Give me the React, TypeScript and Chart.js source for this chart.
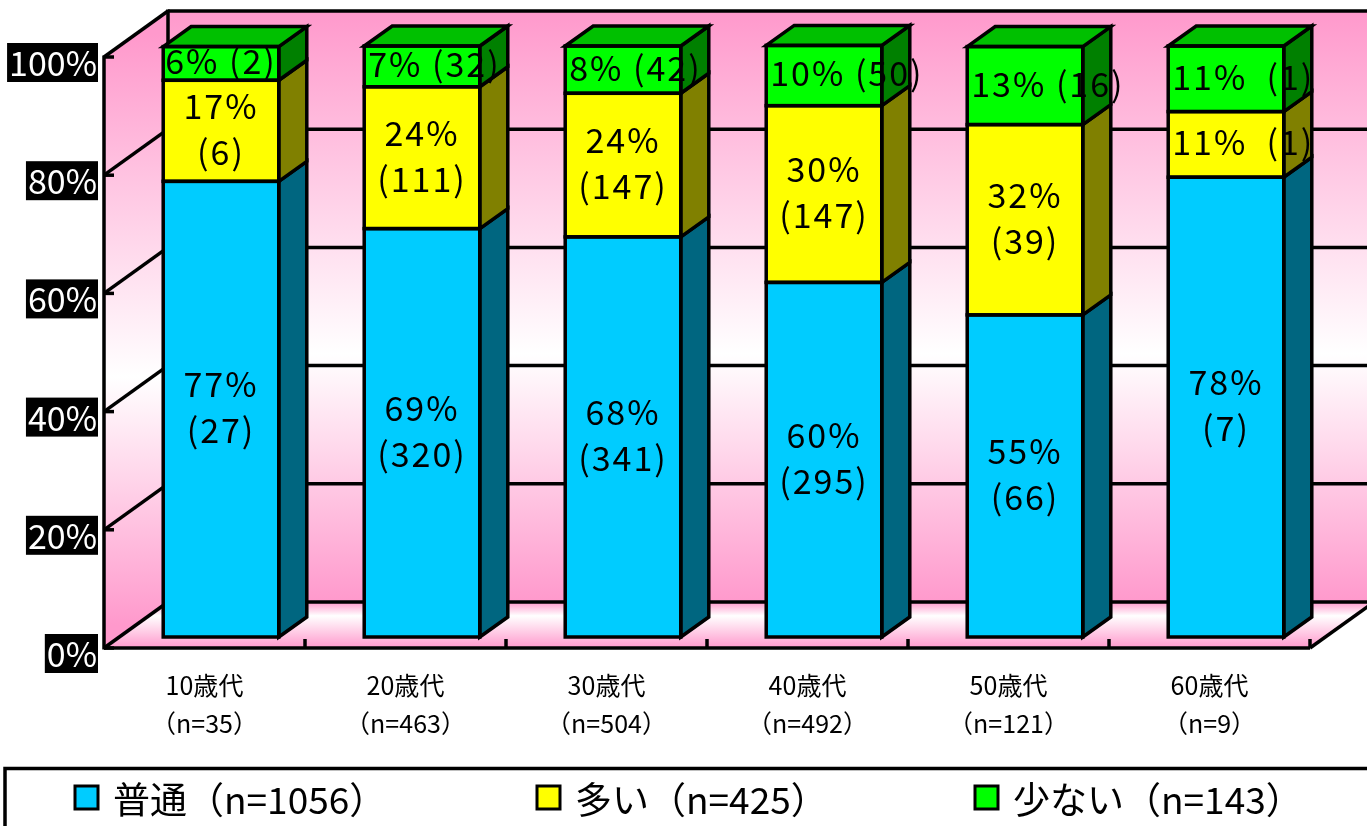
import React, { useEffect, useRef } from 'react';
import { Chart, registerables } from 'chart.js';

Chart.register(...registerables);

// ---- data ----
const categories = ['10歳代', '20歳代', '30歳代', '40歳代', '50歳代', '60歳代'];
const categorySizes = ['（n=35）', '（n=463）', '（n=504）', '（n=492）', '（n=121）', '（n=9）'];
const seriesNames = ['普通（n=1056）', '多い（n=425）', '少ない（n=143）'];
const normalShare = [77.1, 69.1, 67.7, 60.0, 54.5, 77.8];
const manyShare = [17.1, 24.0, 24.3, 29.9, 32.2, 11.1];
const fewShare = [5.7, 6.9, 8.0, 10.2, 13.2, 11.1];
const normalLabels = ['77%\n(27)', '69%\n(320)', '68%\n(341)', '60%\n(295)', '55%\n(66)', '78%\n(7)'];
const manyLabels = ['17%\n(6)', '24%\n(111)', '24%\n(147)', '30%\n(147)', '32%\n(39)', '11%  (1)'];
const fewLabels = ['6% (2)', '7% (32)', '8% (42)', '10% (50)', '13% (16)', '11%  (1)'];
const yTicks = [0, 20, 40, 60, 80, 100];
const yTickLabels = ['0%', '20%', '40%', '60%', '80%', '100%'];

// ---- styles ----
const FRONT_COLORS = ['#00CCFF', '#FFFF00', '#00FF00'];
const SIDE_COLORS = ['#006680', '#808000', '#008000'];
const TOP_COLOR = '#00C000';
const PINK = '#FF99CC';
const FONT = '"Noto Sans CJK JP", "Noto Sans", sans-serif';
const FRONT_OFF = { dx: -16.5, dy: 11 };
const BACK_OFF = { dx: 47.5, dy: -35 };
const BAR_DEPTH = { dx: 28, dy: -20 };
const LEGEND_X = [75, 537, 975];
const LINE_W = 3.5;

const labelSets = [normalLabels, manyLabels, fewLabels];

const pseudo3d = {
  id: 'pseudo3d',
  beforeDatasetsDraw(chart: any) {
    const ctx = chart.ctx as CanvasRenderingContext2D;
    const { left, right } = chart.chartArea;
    const ys = chart.scales.y;
    const xs = chart.scales.x;
    const yv = (v: number) => ys.getPixelForValue(v);
    const fL = left + FRONT_OFF.dx;
    const fR = right + FRONT_OFF.dx;
    const bL = left + BACK_OFF.dx;
    const bR = right + BACK_OFF.dx;
    const yF = (v: number) => yv(v) + FRONT_OFF.dy;
    const yB = (v: number) => yv(v) + BACK_OFF.dy;
    ctx.save();

    // back wall
    let g = ctx.createLinearGradient(0, yB(100), 0, yB(0));
    g.addColorStop(0, PINK);
    g.addColorStop(0.58, '#FFFFFF');
    g.addColorStop(1, PINK);
    ctx.fillStyle = g;
    ctx.fillRect(bL, yB(100), bR - bL, yB(0) - yB(100));

    // left wall
    g = ctx.createLinearGradient(0, (yF(100) + yB(100)) / 2, 0, (yF(0) + yB(0)) / 2);
    g.addColorStop(0, PINK);
    g.addColorStop(0.58, '#FFFFFF');
    g.addColorStop(1, PINK);
    ctx.fillStyle = g;
    ctx.beginPath();
    ctx.moveTo(fL, yF(100));
    ctx.lineTo(bL, yB(100));
    ctx.lineTo(bL, yB(0));
    ctx.lineTo(fL, yF(0));
    ctx.closePath();
    ctx.fill();

    // floor
    g = ctx.createLinearGradient(0, yB(0), 0, yF(0));
    g.addColorStop(0, PINK);
    g.addColorStop(0.3, '#FFFFFF');
    g.addColorStop(1, PINK);
    ctx.fillStyle = g;
    ctx.beginPath();
    ctx.moveTo(fL, yF(0));
    ctx.lineTo(fR, yF(0));
    ctx.lineTo(bR, yB(0));
    ctx.lineTo(bL, yB(0));
    ctx.closePath();
    ctx.fill();

    // grid lines
    ctx.strokeStyle = '#000';
    ctx.lineWidth = LINE_W;
    ctx.lineCap = 'butt';
    const line = (x1: number, y1: number, x2: number, y2: number) => {
      ctx.beginPath();
      ctx.moveTo(x1, y1);
      ctx.lineTo(x2, y2);
      ctx.stroke();
    };
    yTicks.forEach((v) => {
      line(bL, yB(v), bR, yB(v));
      line(fL, yF(v), bL, yB(v));
      line(fL, yF(v), fL + 10, yF(v));
    });
    line(bL, yB(100) - 1.5, bL, yB(0) + 1.5);
    line(fL, yF(100) - 1.5, fL, yF(0) + 1.5);
    line(fL, yF(0), fR, yF(0));
    line(fR, yF(0), bR, yB(0));
    const n = categories.length;
    for (let i = 0; i < n; i++) {
      const cx = xs.getPixelForValue(i) + FRONT_OFF.dx;
      const half = (fR - fL) / n / 2;
      line(cx + half, yF(0), cx + half, yF(0) - 9);
    }

    // y tick labels (white on black)
    ctx.font = `34px ${FONT}`;
    ctx.textAlign = 'right';
    ctx.textBaseline = 'middle';
    yTicks.forEach((v, i) => {
      const t = yTickLabels[i];
      const w = ctx.measureText(t).width;
      const xr = fL - 7;
      const yc = yF(v) + 5;
      ctx.fillStyle = '#000';
      ctx.fillRect(xr - w - 2, yc - 19, w + 3, 39);
      ctx.fillStyle = '#FFF';
      ctx.fillText(t, xr, yc + 1);
    });

    // x labels
    ctx.fillStyle = '#000';
    ctx.font = `25px ${FONT}`;
    ctx.textAlign = 'center';
    for (let i = 0; i < n; i++) {
      const cx = xs.getPixelForValue(i) + FRONT_OFF.dx;
      ctx.fillText(categories[i], cx, yF(0) + 37);
      ctx.fillText(categorySizes[i], cx, yF(0) + 75);
    }

    // legend
    ctx.lineWidth = LINE_W;
    ctx.strokeStyle = '#000';
    ctx.strokeRect(5, 768.5, chart.width + 20, 80);
    ctx.font = `37px ${FONT}`;
    ctx.textAlign = 'left';
    seriesNames.forEach((name, i) => {
      const x = LEGEND_X[i];
      ctx.fillStyle = FRONT_COLORS[i];
      ctx.fillRect(x, 786, 23, 23);
      ctx.lineWidth = 3;
      ctx.strokeRect(x, 786, 23, 23);
      ctx.fillStyle = '#000';
      ctx.fillText(name, x + 38, 800);
    });
    ctx.restore();
  },
  afterDatasetsDraw(chart: any) {
    const ctx = chart.ctx as CanvasRenderingContext2D;
    ctx.save();
    ctx.strokeStyle = '#000';
    ctx.lineWidth = LINE_W;
    ctx.lineJoin = 'miter';
    const last = chart.data.datasets.length - 1;
    const boxes: any[] = [];
    chart.data.datasets.forEach((_ds: any, di: number) => {
      const meta = chart.getDatasetMeta(di);
      meta.data.forEach((bar: any, i: number) => {
        const { x, y, base, width } = bar.getProps(['x', 'y', 'base', 'width'], true);
        const l = x - width / 2;
        const r = x + width / 2;
        const t = Math.min(y, base);
        const b = Math.max(y, base);
        boxes.push({ di, i, x, l, r, t, b });
        // side face
        ctx.fillStyle = SIDE_COLORS[di];
        ctx.beginPath();
        ctx.moveTo(r, t);
        ctx.lineTo(r + BAR_DEPTH.dx, t + BAR_DEPTH.dy);
        ctx.lineTo(r + BAR_DEPTH.dx, b + BAR_DEPTH.dy);
        ctx.lineTo(r, b);
        ctx.closePath();
        ctx.fill();
        ctx.stroke();
        if (di === last) {
          ctx.fillStyle = TOP_COLOR;
          ctx.beginPath();
          ctx.moveTo(l, t);
          ctx.lineTo(l + BAR_DEPTH.dx, t + BAR_DEPTH.dy);
          ctx.lineTo(r + BAR_DEPTH.dx, t + BAR_DEPTH.dy);
          ctx.lineTo(r, t);
          ctx.closePath();
          ctx.fill();
          ctx.stroke();
        }
        ctx.strokeRect(l, t, r - l, b - t);
      });
    });
    // value labels
    ctx.fillStyle = '#000';
    ctx.font = `34px ${FONT}`;
    (ctx as any).letterSpacing = '2px';
    ctx.textBaseline = 'middle';
    boxes.forEach(({ di, i, x, l, t, b }) => {
      const text = labelSets[di][i];
      const lines = text.split('\n');
      const cy = (t + b) / 2 - 2;
      const lh = 46;
      lines.forEach((ln: string, k: number) => {
        const yy = cy + (k - (lines.length - 1) / 2) * lh;
        const w = ctx.measureText(ln).width;
        let sx = x - w / 2;
        if (w > (x - l) * 2) sx = Math.max(sx, l + 4);
        ctx.textAlign = 'left';
        ctx.fillText(ln, sx, yy);
      });
    });
    ctx.restore();
  },
};

export default function App() {
  const ref = useRef<HTMLCanvasElement>(null);
  useEffect(() => {
    if (!ref.current) return;
    const chart = new Chart(ref.current, {
      type: 'bar',
      data: {
        labels: categories,
        datasets: [
          { label: seriesNames[0], data: normalShare, backgroundColor: FRONT_COLORS[0], borderWidth: 0 },
          { label: seriesNames[1], data: manyShare, backgroundColor: FRONT_COLORS[1], borderWidth: 0 },
          { label: seriesNames[2], data: fewShare, backgroundColor: FRONT_COLORS[2], borderWidth: 0 },
        ],
      },
      options: {
        responsive: false,
        animation: false,
        devicePixelRatio: 1,
        layout: { padding: { left: 120.5, right: 40.5, top: 46, bottom: 189 } },
        plugins: { legend: { display: false }, tooltip: { enabled: false } },
        datasets: { bar: { barPercentage: 0.575, categoryPercentage: 1 } },
        scales: {
          x: { stacked: true, display: false },
          y: { stacked: true, display: false, min: 0, max: 100 },
        },
      },
      plugins: [pseudo3d],
    });
    return () => chart.destroy();
  }, []);
  return (
    <div style={{ position: 'absolute', left: 0, top: 0, width: 1367, height: 826, background: '#fff', overflow: 'hidden' }}>
      <canvas ref={ref} width={1367} height={826} style={{ display: 'block' }} />
    </div>
  );
}
